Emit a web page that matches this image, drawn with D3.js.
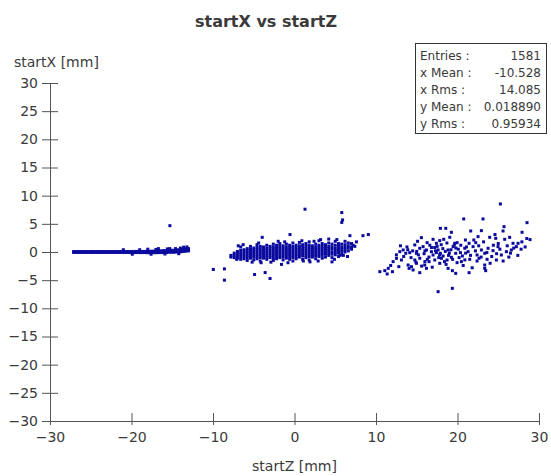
<!DOCTYPE html>
<html>
<head>
<meta charset="utf-8">
<script src="https://cdn.jsdelivr.net/npm/d3@7"></script>
<style>
  html, body { margin: 0; padding: 0; background: #fff; }
  svg { display: block; font-family: "DejaVu Sans", sans-serif; }
</style>
</head>
<body>
<svg id="chart" width="551" height="476"></svg>
<script>
// Hit start positions in mm: startZ along the beam, startX across it

// Upstream foil: columns of startZ with the startX values found there
const upstreamColumns = [
  [-27.1, [-0.08, 0.08]], [-26.8, [-0.08, 0.08]], [-26.5, [-0.08, 0.08]], [-26.2, [-0.08, 0.08]],
  [-25.9, [-0.08, 0.08]], [-25.6, [-0.08, 0.08]], [-25.3, [-0.08, 0.08]], [-25.0, [-0.08, 0.08]],
  [-24.7, [-0.08, 0.08]], [-24.4, [-0.08, 0.08]], [-24.1, [-0.08, 0.08]], [-23.8, [-0.08, 0.08]],
  [-23.5, [-0.08, 0.08]], [-23.2, [-0.08, 0.08]], [-22.9, [-0.08, 0.08]], [-22.6, [-0.08, 0.08]],
  [-22.3, [-0.08, 0.08]], [-22.0, [-0.08, 0.08]], [-21.7, [-0.08, 0.08]], [-21.4, [-0.08, 0.08]],
  [-21.1, [-0.08, 0.08]], [-20.8, [-0.08, 0.08]], [-20.5, [-0.08, 0.08]], [-20.2, [-0.1, 0.08]],
  [-19.9, [-0.1, 0.08]], [-19.6, [-0.1, 0.1]], [-19.3, [-0.1, 0.1]], [-19.0, [-0.1, 0.1]],
  [-18.7, [-0.1, 0.1]], [-18.4, [-0.1, 0.1]], [-18.1, [-0.12, 0.12]], [-17.8, [-0.12, 0.12]],
  [-17.5, [-0.12, 0.15]], [-17.2, [-0.12, 0.15]], [-16.9, [-0.12, 0.2]], [-16.6, [-0.1, 0.2]],
  [-16.3, [-0.1, 0.2]], [-16.0, [-0.1, 0.25]], [-15.7, [-0.1, 0.25]], [-15.4, [-0.05, 0.3]],
  [-15.1, [-0.05, 0.3]], [-14.8, [-0.05, 0.3]], [-14.5, [0.0, 0.35]], [-14.2, [0.0, 0.4]],
  [-13.9, [0.05, 0.45]], [-13.6, [0.1, 0.5]], [-13.3, [0.15, 0.55]], [-13.0, [0.2, 0.6]]
];

// Upstream foil: hits off the band
const upstreamStray = [
  [-21.0, 0.4], [-19.9, -0.4], [-19.0, 0.4], [-18.0, 0.5], [-17.6, -0.4], [-17.0, 0.45],
  [-16.7, 0.6], [-15.9, -0.35], [-15.6, 0.55], [-15.3, 0.6], [-14.6, 0.6], [-14.2, -0.3],
  [-14.0, 0.7], [-13.6, 0.85], [-13.2, 0.9], [-15.29, 4.67]
];

// Target region: columns of startZ with the startX values found there
const targetColumns = [
  [-7.8, [-0.9, -0.6]],
  [-7.4, [-1.0, -0.6, -0.2]],
  [-7.0, [-1.1, -0.7, -0.3, 0.1]],
  [-6.6, [-1.3, -0.9, -0.5, -0.1, 0.3, 0.9]],
  [-6.2, [-1.2, -0.8, -0.4, 0.0, 0.4]],
  [-5.8, [-1.5, -1.0, -0.6, -0.2, 0.2, 0.6]],
  [-5.4, [-1.1, -0.7, -0.3, 0.1, 0.5, 1.0]],
  [-5.0, [-1.4, -0.9, -0.5, -0.1, 0.3, 0.7]],
  [-4.6, [-1.2, -0.8, -0.4, 0.0, 0.4, 0.8, 1.3]],
  [-4.2, [-1.6, -1.0, -0.6, -0.2, 0.2, 0.6, 1.0]],
  [-3.8, [-1.1, -0.7, -0.3, 0.1, 0.5, 0.9]],
  [-3.4, [-1.3, -0.9, -0.5, -0.1, 0.3, 0.7, 1.2]],
  [-3.0, [-1.0, -0.6, -0.2, 0.2, 0.6, 1.0]],
  [-2.6, [-1.5, -1.1, -0.7, -0.3, 0.1, 0.5, 0.9, 1.4]],
  [-2.2, [-1.2, -0.8, -0.4, 0.0, 0.4, 0.8, 1.2]],
  [-1.8, [-1.0, -0.6, -0.2, 0.2, 0.6, 1.0, 1.5]],
  [-1.4, [-1.4, -0.9, -0.5, -0.1, 0.3, 0.7, 1.1]],
  [-1.0, [-1.1, -0.7, -0.3, 0.1, 0.5, 0.9, 1.4]],
  [-0.6, [-1.3, -0.8, -0.4, 0.0, 0.4, 0.8, 1.2]],
  [-0.2, [-1.6, -1.0, -0.6, -0.2, 0.2, 0.6, 1.0, 1.6]],
  [0.2, [-1.2, -0.8, -0.4, 0.0, 0.4, 0.8, 1.2]],
  [0.6, [-0.9, -0.5, -0.1, 0.3, 0.7, 1.1, 1.7]],
  [1.0, [-1.3, -0.7, -0.3, 0.1, 0.5, 0.9, 1.3]],
  [1.4, [-1.0, -0.6, -0.2, 0.2, 0.6, 1.0, 1.5]],
  [1.8, [-1.4, -0.8, -0.4, 0.0, 0.4, 0.8, 1.2, 1.8]],
  [2.2, [-0.9, -0.5, -0.1, 0.3, 0.7, 1.1]],
  [2.6, [-1.2, -0.7, -0.3, 0.1, 0.5, 0.9, 1.4]],
  [3.0, [-0.8, -0.4, 0.0, 0.4, 0.8, 1.2, 2.0]],
  [3.4, [-1.1, -0.6, -0.2, 0.2, 0.6, 1.0, 1.5]],
  [3.8, [-0.9, -0.4, 0.0, 0.4, 0.8, 1.3]],
  [4.2, [-0.6, -0.2, 0.2, 0.6, 1.0, 1.6, 2.3]],
  [4.6, [-1.0, -0.4, 0.0, 0.5, 0.9, 1.4]],
  [5.0, [-0.5, -0.1, 0.3, 0.7, 1.2, 1.9]],
  [5.4, [-0.8, -0.2, 0.2, 0.6, 1.0, 1.5]],
  [5.8, [-0.4, 0.1, 0.5, 0.9, 1.4]],
  [6.2, [0.0, 0.4, 0.8, 1.3, 1.9]],
  [6.6, [0.2, 0.7, 1.1, 1.6]],
  [7.0, [0.5, 0.9, 1.5]],
  [7.4, [1.0]]
];

// Target region: hits away from the dense core
const targetStray = [
  [-6.9, 1.1], [-5.2, -1.8], [-2.0, 1.9], [-0.8, -1.9], [0.9, 2.0], [2.9, -1.6],
  [3.2, 2.2], [4.9, -1.3], [6.5, -0.8], [7.6, 1.8], [-6.3, 1.3], [-4.4, 1.6],
  [-2.9, -1.8], [-1.2, 1.8], [2.4, 1.9], [5.2, 2.2], [6.0, -0.6], [-7.1, -1.3],
  [1.29, 7.6], [5.8, 7.0], [5.9, 5.7], [5.8, 5.25], [-0.55, 3.1], [-3.96, 2.6],
  [8.4, 2.9], [9.06, 3.1], [6.8, 2.9], [7.2, 1.2], [-9.96, -3.1], [-8.6, -3.0],
  [-8.6, -5.0], [-4.9, -4.0], [-3.6, -3.65], [-3.0, -4.7], [-1.6, -2.2], [-4.1, -1.9],
  [1.08, -1.6], [1.9, -1.75], [4.6, -1.75], [5.6, -0.6]
];

// Downstream foil: broad scatter
const downstreamHits = [
  [25.26, 8.53], [20.76, 5.87], [23.13, 5.87], [28.53, 5.21], [25.71, 4.5], [25.59, 3.73],
  [27.92, 3.5], [17.9, 4.2], [18.56, 4.2], [19.25, 3.5], [21.62, 3.73], [22.93, 3.79],
  [15.57, 2.55], [17.0, 2.25], [17.82, 2.02], [18.31, 2.25], [19.05, 2.61], [19.66, 1.54],
  [19.95, 1.66], [20.97, 2.13], [21.42, 1.54], [22.0, 2.13], [22.24, 1.66], [22.52, 2.73],
  [23.95, 2.61], [24.69, 2.43], [25.79, 2.25], [26.81, 1.54], [27.43, 1.54], [14.76, 1.25],
  [16.27, 1.66], [17.41, 1.54],
  [12.92, 0.06], [13.33, 0.36], [13.65, -0.23], [14.14, -0.11], [14.96, -0.23], [15.37, 0.66],
  [15.78, 0.95], [16.19, 0.36], [16.8, 0.06], [17.0, -0.53], [17.41, -0.11], [17.62, 0.36],
  [17.9, -0.23], [18.23, -0.71], [18.84, 0.36], [19.46, 0.95], [19.78, -0.23], [20.36, -0.11],
  [20.89, 0.66], [21.3, 0.06], [21.91, 0.95], [22.4, -0.53], [22.93, 0.36], [23.34, -0.23],
  [23.75, 0.66], [24.36, 0.24], [24.97, 0.95], [25.38, -0.53], [26.0, 0.06], [26.61, 0.36],
  [27.22, 0.95],
  [12.1, -1.71], [12.51, -1.12], [13.12, -1.42], [13.94, -2.31], [14.35, -2.6], [14.76, -1.42],
  [14.96, -2.01], [15.37, -1.12], [15.98, -2.31], [16.51, -1.71], [17.21, -1.42], [17.82, -2.01],
  [18.03, -1.12], [18.72, -1.42], [19.25, -0.94], [19.95, -1.89], [20.48, -1.71], [21.5, -1.3],
  [22.4, -1.6], [22.64, -1.12], [23.34, -2.31], [23.63, -1.3], [24.77, -1.42],
  [10.47, -3.49], [11.08, -3.31], [11.37, -3.9], [12.02, -3.49], [14.06, -2.9], [14.55, -3.19],
  [15.37, -3.67], [16.19, -2.9], [18.84, -2.9], [19.37, -3.31], [19.78, -3.79], [21.42, -3.67],
  [23.34, -2.9], [23.46, -3.31],
  [17.62, -7.04], [19.37, -6.45],
  [15.2, -0.5], [16.0, 0.2], [16.5, -0.9], [17.2, 0.8], [17.7, -1.0], [18.5, 0.1],
  [18.9, -0.6], [19.2, 0.4], [20.1, 0.5], [20.6, -0.7], [21.0, -0.2], [16.6, 1.2],
  [18.0, 1.3], [19.6, 1.2], [13.8, 0.9], [14.3, -1.0], [12.5, -0.5], [11.8, -2.4],
  [24.2, -0.8], [25.0, 1.5], [26.3, -0.9], [27.8, 0.5], [28.5, 2.4],
  [11.5, -2.9], [12.8, -2.6], [13.4, -0.8], [13.9, 0.4], [14.5, 0.2], [14.9, -1.8],
  [15.1, 1.9], [15.6, -2.5], [15.9, -0.3], [16.3, -1.3], [16.8, 0.8], [16.9, -2.7],
  [17.3, 0.2], [17.5, 1.0], [17.8, -0.5], [18.2, 0.6], [18.4, -1.7], [18.7, 1.6],
  [19.0, -0.2], [19.4, -1.3], [19.8, 0.7], [20.2, -1.0], [20.4, 1.2], [20.7, -2.4],
  [21.1, 0.9], [21.6, -0.6], [21.8, -2.8], [22.2, 0.2], [22.6, 1.1], [22.9, -0.9],
  [23.2, 1.8], [23.6, -0.1], [24.0, -2.0], [24.4, 1.2], [24.8, -0.3], [25.2, 0.5],
  [25.6, -1.6], [26.1, 1.1], [26.5, -0.2], [26.9, 0.7], [27.4, -0.6], [27.9, 1.8],
  [28.3, 0.9], [28.9, 2.2], [13.0, 1.1], [15.0, 0.1], [16.0, -1.7], [18.6, -2.2],
  [20.9, -1.4], [24.6, 3.1], [26.4, 2.6]
];

// Axis ticks and statistics text
const zTicks = [-30, -20, -10, 0, 10, 20, 30];
const xTicks = [30, 25, 20, 15, 10, 5, 0, -5, -10, -15, -20, -25, -30];
const statLabels = ["Entries :", "x Mean :", "x Rms :", "y Mean :", "y Rms :"];
const statValues = ["1581", "-10.528", "14.085", "0.018890", "0.95934"];

const svg = d3.select("#chart");
const ink = "#3a3a3a";
const axisInk = "#555";
const markColor = "#0a0a9e";

const zScale = d3.scaleLinear().domain([-30, 30]).range([50, 539]);
const xScale = d3.scaleLinear().domain([-30, 30]).range([421, 83]);

const fromColumns = cols => cols.flatMap(([z, xs]) => xs.map(x => [z, x]));
const allHits = fromColumns(upstreamColumns).concat(
  upstreamStray, fromColumns(targetColumns), targetStray, downstreamHits);

// Title
svg.append("text")
  .attr("x", 266).attr("y", 27)
  .attr("text-anchor", "middle")
  .attr("font-size", 16).attr("font-weight", "bold")
  .attr("fill", ink)
  .text("startX vs startZ");

// Axes
const gx = svg.append("g")
  .attr("transform", `translate(0,${xScale(-30)})`)
  .call(d3.axisBottom(zScale).tickValues(zTicks).tickSize(4).tickPadding(7)
    .tickFormat(d3.format("d")));
gx.selectAll(".tick line").attr("y1", -8).attr("y2", 4);

const gy = svg.append("g")
  .attr("transform", `translate(${zScale(-30)},0)`)
  .call(d3.axisLeft(xScale).tickValues(xTicks).tickSize(8).tickPadding(4)
    .tickFormat(d3.format("d")));
gy.selectAll(".tick line").attr("x1", -8).attr("x2", 8);

[gx, gy].forEach(g => {
  g.select(".domain").attr("stroke", axisInk);
  g.selectAll(".tick line").attr("stroke", axisInk);
  g.selectAll(".tick text")
    .attr("fill", ink)
    .attr("font-size", 14)
    .attr("font-family", "DejaVu Sans, sans-serif");
});

// Axis titles
svg.append("text")
  .attr("x", 14).attr("y", 67)
  .attr("font-size", 14).attr("fill", ink)
  .text("startX [mm]");

svg.append("text")
  .attr("x", zScale(0)).attr("y", 471)
  .attr("text-anchor", "middle")
  .attr("font-size", 14).attr("fill", ink)
  .text("startZ [mm]");

// Scatter points
const m = 3;
svg.append("g")
  .selectAll("rect")
  .data(allHits)
  .join("rect")
  .attr("x", d => zScale(d[0]) - m / 2)
  .attr("y", d => xScale(d[1]) - m / 2)
  .attr("width", m).attr("height", m)
  .attr("fill", markColor);

// Statistics box
const box = svg.append("g").attr("transform", "translate(415,43)");
box.append("rect")
  .attr("x", 0.5).attr("y", 0.5)
  .attr("width", 131).attr("height", 90)
  .attr("fill", "#fff").attr("stroke", "#333");
statLabels.forEach((lab, i) => {
  box.append("text")
    .attr("x", 5).attr("y", 16.5 + i * 17)
    .attr("font-size", 12).attr("fill", ink)
    .text(lab);
  box.append("text")
    .attr("x", 126).attr("y", 16.5 + i * 17)
    .attr("text-anchor", "end")
    .attr("font-size", 12).attr("fill", ink)
    .text(statValues[i]);
});
</script>
</body>
</html>
